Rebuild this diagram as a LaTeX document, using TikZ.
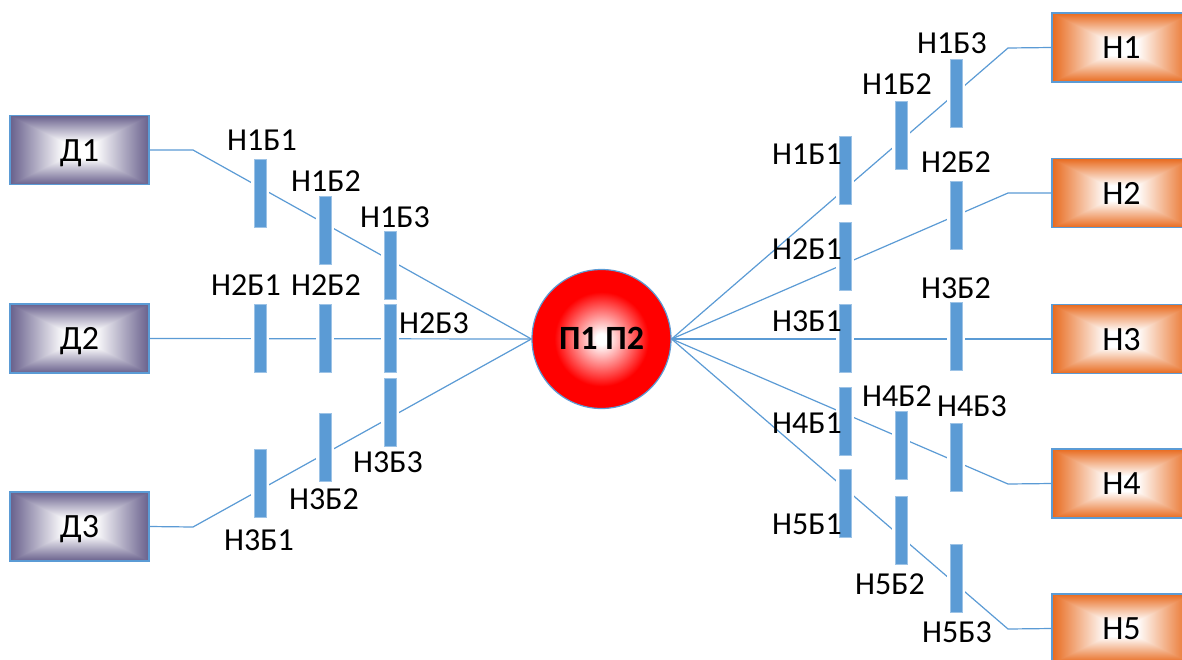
\documentclass[tikz,border=0pt]{standalone}
\usepackage{fontspec}
\setmainfont{Carlito}

% rectangular "path" gradients: white core, coloured rim
% (the central 50bp square of a shading is fitted to the path)
\pgfdeclarefunctionalshading{boxpurple}{\pgfpoint{-50bp}{-50bp}}{\pgfpoint{50bp}{50bp}}{}{
  abs exch abs 2 copy lt {exch} if pop 25 div
  0.22 sub 0.78 div dup 0 lt {pop 0} if dup 1 gt {pop 1} if
  dup 0.592 mul 1 exch sub exch
  dup 0.624 mul 1 exch sub exch
  0.451 mul 1 exch sub
}
\pgfdeclarefunctionalshading{boxorange}{\pgfpoint{-50bp}{-50bp}}{\pgfpoint{50bp}{50bp}}{}{
  abs exch abs 2 copy lt {exch} if pop 25 div
  0.22 sub 0.78 div dup 0 lt {pop 0} if dup 1 gt {pop 1} if
  dup 0.090 mul 1 exch sub exch
  dup 0.584 mul 1 exch sub exch
  0.882 mul 1 exch sub
}
\pgfdeclareradialshading{ballred}{\pgfpoint{0bp}{0bp}}{%
  color(0bp)=(white); color(2bp)=(white); color(17bp)=(red); color(25bp)=(red); color(50bp)=(red)}

\definecolor{wire}{HTML}{5B9BD5}
\definecolor{barblue}{HTML}{5B9BD5}

\tikzset{
  wire/.style={draw=wire, line width=0.6pt},
  bar/.style={rectangle, inner sep=0pt, minimum width=6pt, minimum height=34pt,
    fill=barblue, draw=barblue!60!white, line width=0.3pt,
    preaction={draw=white, line width=3pt}},
  lbl/.style={inner sep=0pt, font=\fontsize{16}{19}\selectfont,
    text height=10.3pt, text depth=0pt},
  srcbox/.style={rectangle, inner sep=0pt, minimum width=69.5pt, minimum height=34.5pt,
    draw=wire, line width=0.6pt, shade, shading=boxpurple,
    font=\fontsize{17}{20}\selectfont, text height=11pt, text depth=0pt},
  dstbox/.style={srcbox, shading=boxorange},
  hub/.style={circle, inner sep=0pt, minimum size=69.5pt, draw=wire, line width=0.6pt,
    shade, shading=ballred, font=\bfseries\fontsize{17}{20}\selectfont,
    text height=10.9pt, text depth=0pt},
}

\begin{document}
\begin{tikzpicture}[x=0.5pt, y=-0.5pt]
  \path[use as bounding box, fill=white] (0,0) rectangle (1182,659);
  \clip (0,0) rectangle (1182,659);

  % sources, hub, destinations
  \node[srcbox] (D1) at (79.5,150)   {Д1};
  \node[srcbox] (D2) at (79.5,338.5) {Д2};
  \node[srcbox] (D3) at (79.5,526.5) {Д3};
  \node[hub] (P) at (601.5,339) {П1 П2};
  \node[dstbox] (N1) at (1121.5,47.5)  {Н1};
  \node[dstbox] (N2) at (1121.5,193)   {Н2};
  \node[dstbox] (N3) at (1121.5,339)   {Н3};
  \node[dstbox] (N4) at (1121.5,483.5) {Н4};
  \node[dstbox] (N5) at (1121.5,628.5) {Н5};

  % bends of the links
  \coordinate (c1) at (193,150);
  \coordinate (c3) at (193,527);
  \coordinate (e1) at (1008,48);
  \coordinate (e2) at (1008,193);
  \coordinate (e4) at (1008,484);
  \coordinate (e5) at (1008,629);

  % links
  \draw[wire] (D1.east) -- (c1) -- (P.west);
  \draw[wire] (D2.east) -- (P.west);
  \draw[wire] (D3.east) -- (c3) -- (P.west);
  \draw[wire] (P.east) -- (e1) -- (N1.west);
  \draw[wire] (P.east) -- (e2) -- (N2.west);
  \draw[wire] (P.east) -- (N3.west);
  \draw[wire] (P.east) -- (e4) -- (N4.west);
  \draw[wire] (P.east) -- (e5) -- (N5.west);

  % barriers, left side
  \node[bar] (L11) at (260,193) {};
  \node[bar] (L12) at (325,230) {};
  \node[bar] (L13) at (390,265) {};
  \node[bar] (L21) at (260,338) {};
  \node[bar] (L22) at (325,338) {};
  \node[bar] (L23) at (390,338) {};
  \node[bar] (L33) at (390,412) {};
  \node[bar] (L32) at (325,447) {};
  \node[bar] (L31) at (260,483) {};

  % barriers, right side
  \node[bar] (R11) at (845,170) {};
  \node[bar] (R12) at (901,135) {};
  \node[bar] (R13) at (956,93)  {};
  \node[bar] (R21) at (845,256) {};
  \node[bar] (R22) at (956,215) {};
  \node[bar] (R31) at (845,338) {};
  \node[bar] (R32) at (956,336) {};
  \node[bar] (R41) at (845,421) {};
  \node[bar] (R42) at (901,445) {};
  \node[bar] (R43) at (956,457) {};
  \node[bar] (R51) at (845,503) {};
  \node[bar] (R52) at (901,530) {};
  \node[bar] (R53) at (956,578) {};

  % barrier labels, left side
  \node[lbl] (tL11) at (262,140) {Н1Б1};
  \node[lbl] (tL12) at (326,181) {Н1Б2};
  \node[lbl] (tL13) at (395,217) {Н1Б3};
  \node[lbl] (tL21) at (246,285) {Н2Б1};
  \node[lbl] (tL22) at (326,285) {Н2Б2};
  \node[lbl] (tL23) at (434,323) {Н2Б3};
  \node[lbl] (tL33) at (388,462) {Н3Б3};
  \node[lbl] (tL32) at (324,499) {Н3Б2};
  \node[lbl] (tL31) at (259,540) {Н3Б1};

  % barrier labels, right side
  \node[lbl] (tR13) at (952,43)  {Н1Б3};
  \node[lbl] (tR12) at (897,84)  {Н1Б2};
  \node[lbl] (tR11) at (807,154) {Н1Б1};
  \node[lbl] (tR22) at (956,162) {Н2Б2};
  \node[lbl] (tR21) at (807,249) {Н2Б1};
  \node[lbl] (tR32) at (956,288) {Н3Б2};
  \node[lbl] (tR31) at (807,321) {Н3Б1};
  \node[lbl] (tR42) at (897,396) {Н4Б2};
  \node[lbl] (tR43) at (972,406) {Н4Б3};
  \node[lbl] (tR41) at (807,423) {Н4Б1};
  \node[lbl] (tR51) at (807,524) {Н5Б1};
  \node[lbl] (tR52) at (890,584) {Н5Б2};
  \node[lbl] (tR53) at (957,632) {Н5Б3};
\end{tikzpicture}
\end{document}
